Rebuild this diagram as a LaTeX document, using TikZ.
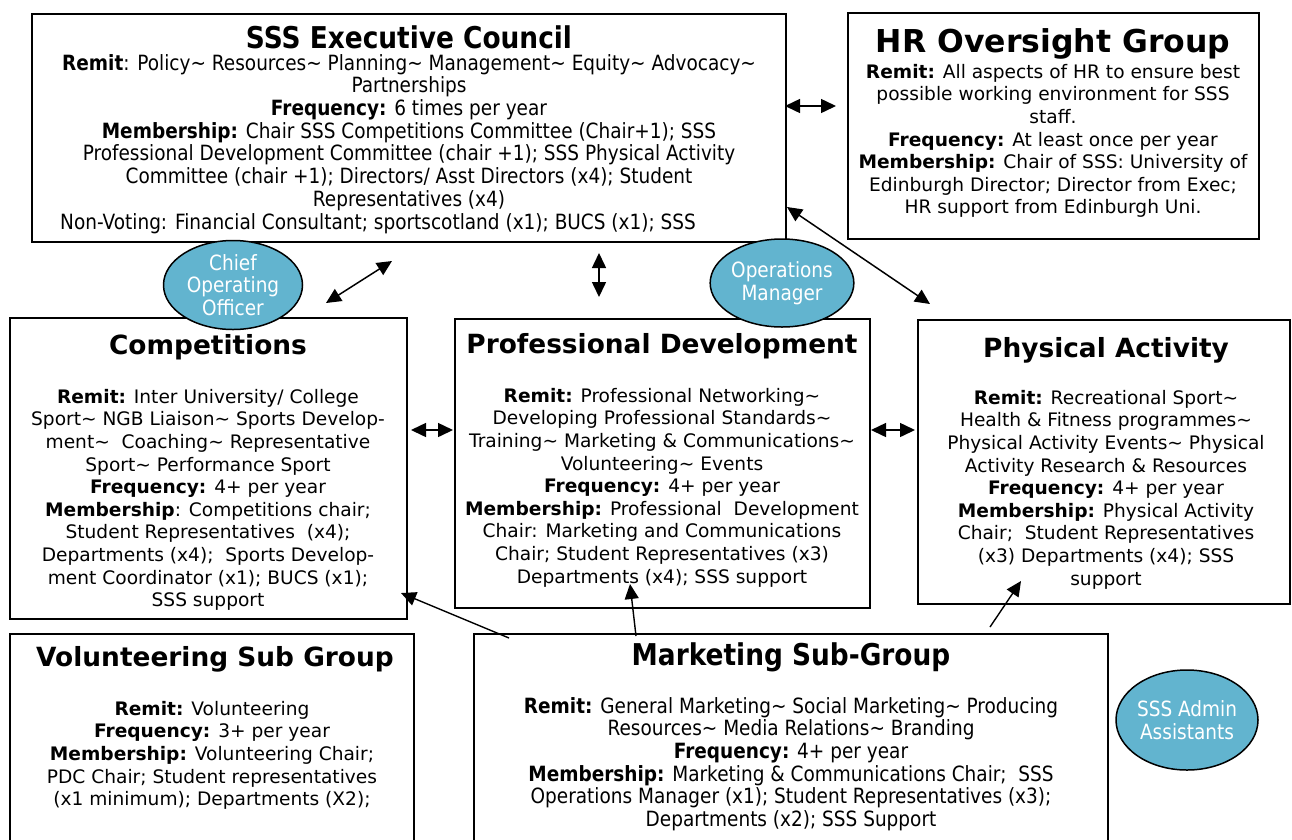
\documentclass[tikz,border=0pt]{standalone}
\usepackage{fontspec}
\setmainfont{DejaVu Sans}
\newfontfamily\condfont[FakeStretch=0.88]{DejaVu Sans}
\usetikzlibrary{arrows.meta,fit,shapes.geometric}
\definecolor{circblue}{HTML}{62B4CF}
\newcommand{\tld}{\textasciitilde}
\begin{document}
\begin{tikzpicture}[x=1pt,y=-1pt,
  box/.style={draw=black, line width=1.6pt, inner sep=0pt, fill=white},
  ttl/.style={font=\fontsize{26.4}{30}\selectfont\bfseries, anchor=center, inner sep=0pt},
  cttl/.style={font=\condfont\fontsize{30}{32}\selectfont\bfseries, anchor=center, inner sep=0pt},
  body/.style={font=\fontsize{18.6}{22.6}\selectfont, align=center, anchor=north, inner sep=0pt},
  cbody/.style={font=\condfont\fontsize{21}{22.7}\selectfont, align=center, anchor=north, inner sep=0pt},
  role/.style={ellipse, draw=black, line width=1.5pt, fill=circblue, text=white, font=\condfont\fontsize{21}{22.5}\selectfont, align=center, inner sep=0pt},
  link/.style={line width=1.5pt, {Triangle[length=15pt,width=14pt]}-{Triangle[length=15pt,width=14pt]}},
  feed/.style={line width=1.4pt, -{Triangle[length=15pt,width=14pt]}}
]
\useasboundingbox[fill=white] (0,0) rectangle (1292,839);

% boxes
\node[box, fit={(32,14) (786,242)}] (exec) {};
\node[box, fit={(848,13) (1259,239)}] (hr) {};
\node[box, fit={(10,318) (407,619)}] (comp) {};
\node[box, fit={(455,319) (870,608)}] (pd) {};
\node[box, fit={(918,320) (1290,604)}] (pa) {};
\node[box, fit={(10,634) (414,860)}] (vol) {};
\node[box, fit={(474,634) (1108,860)}] (mkt) {};

% Executive council
\node[cttl] (exect) at (409,37) {SSS Executive Council};
\node[cbody] (execb) at (409,54) {\textbf{Remit}: Policy\tld{} Resources\tld{} Planning\tld{} Management\tld{} Equity\tld{} Advocacy\tld\\
Partnerships\\
\textbf{Frequency:} 6 times per year\\
\textbf{Membership:} Chair SSS Competitions Committee (Chair+1); SSS\\
Professional Development Committee (chair +1); SSS Physical Activity\\
Committee (chair +1); Directors/ Asst Directors (x4); Student\\
Representatives (x4)};
\node[cbody, anchor=north west] (execnv) at (60,213) {Non-Voting: Financial Consultant; sportscotland (x1); BUCS (x1); SSS};

% HR
\node[ttl, font=\fontsize{31.5}{34}\selectfont\bfseries] (hrt) at (1053,44) {HR Oversight Group};
\node[body] (hrb) at (1053,64) {\textbf{Remit:} All aspects of HR to ensure best\\
possible working environment for SSS\\
staff.\\
\textbf{Frequency:} At least once per year\\
\textbf{Membership:} Chair of SSS: University of\\
Edinburgh Director; Director from Exec;\\
HR support from Edinburgh Uni.};

% Competitions
\node[ttl] (compt) at (208,347) {Competitions};
\node[body] (compb) at (208,389) {\textbf{Remit:} Inter University/ College\\
Sport\tld{} NGB Liaison\tld{} Sports Develop-\\
ment\tld{}\ \ Coaching\tld{} Representative\\
Sport\tld{} Performance Sport\\
\textbf{Frequency:} 4+ per year\\
\textbf{Membership}: Competitions chair;\\
Student Representatives\ \ (x4);\\
Departments (x4);\ \ Sports Develop-\\
ment Coordinator (x1); BUCS (x1);\\
SSS support};

% Professional development
\node[ttl] (pdt) at (662,346) {Professional Development};
\node[body] (pdb) at (662,388) {\textbf{Remit:} Professional Networking\tld\\
Developing Professional Standards\tld\\
Training\tld{} Marketing \& Communications\tld\\
Volunteering\tld{} Events\\
\textbf{Frequency:} 4+ per year\\
\textbf{Membership:} Professional\ \ Development\\
Chair: Marketing and Communications\\
Chair; Student Representatives (x3)\\
Departments (x4); SSS support};

% Physical activity
\node[ttl] (pat) at (1106,350) {Physical Activity};
\node[body] (pab) at (1106,390) {\textbf{Remit:} Recreational Sport\tld\\
Health \& Fitness programmes\tld\\
Physical Activity Events\tld{} Physical\\
Activity Research \& Resources\\
\textbf{Frequency:} 4+ per year\\
\textbf{Membership:} Physical Activity\\
Chair;\ \ Student Representatives\\
(x3) Departments (x4); SSS\\
support};

% Volunteering
\node[ttl] (volt) at (215,659) {Volunteering Sub Group};
\node[body] (volb) at (212,701) {\textbf{Remit:} Volunteering\\
\textbf{Frequency:} 3+ per year\\
\textbf{Membership:} Volunteering Chair;\\
PDC Chair; Student representatives\\
(x1 minimum); Departments (X2);};

% Marketing
\node[cttl] (mktt) at (791,657) {Marketing Sub-Group};
\node[cbody] (mktb) at (791,697) {\textbf{Remit:} General Marketing\tld{} Social Marketing\tld{} Producing\\
Resources\tld{} Media Relations\tld{} Branding\\
\textbf{Frequency:} 4+ per year\\
\textbf{Membership:} Marketing \& Communications Chair;\ \ SSS\\
Operations Manager (x1); Student Representatives (x3);\\
Departments (x2); SSS Support};

% roles
\node[role, minimum width=139pt, minimum height=89pt] (coo) at (233,285) {Chief\\Operating\\Officer};
\node[role, minimum width=134pt, minimum height=88pt] (opm) at (782,283) {Operations\\Manager};
\node[role, minimum width=142pt, minimum height=100pt] (adm) at (1187,720) {SSS Admin\\Assistants};

% connector end points
\coordinate (eh1) at (785,106);  \coordinate (eh2) at (836,106);
\coordinate (ec1) at (326,303);  \coordinate (ec2) at (392,261);
\coordinate (ep1) at (599,253);  \coordinate (ep2) at (599,297);
\coordinate (ea1) at (787,207);  \coordinate (ea2) at (930,304);
\coordinate (cp1) at (411,430);  \coordinate (cp2) at (453,430);
\coordinate (pp1) at (871,430);  \coordinate (pp2) at (915,430);
\coordinate (mc1) at (509,638);  \coordinate (mc2) at (401,593);
\coordinate (mp1) at (636,636);  \coordinate (mp2) at (630,584);
\coordinate (ma1) at (990,627);  \coordinate (ma2) at (1021,581);

\draw[link] (eh1) -- (eh2);
\draw[link] (ec1) -- (ec2);
\draw[link] (ep1) -- (ep2);
\draw[link] (ea1) -- (ea2);
\draw[link] (cp1) -- (cp2);
\draw[link] (pp1) -- (pp2);
\draw[feed] (mc1) -- (mc2);
\draw[feed] (mp1) -- (mp2);
\draw[feed] (ma1) -- (ma2);
\end{tikzpicture}
\end{document}
